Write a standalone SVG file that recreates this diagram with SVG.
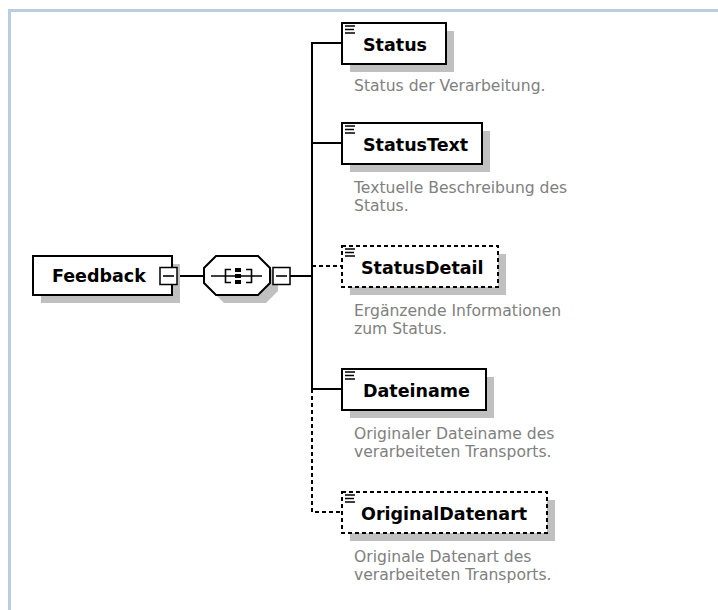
<svg xmlns="http://www.w3.org/2000/svg" width="718" height="610" viewBox="0 0 718 610">
<style>
.frame{fill:none;stroke:#B8CCE4;stroke-width:3}
.box{fill:#fff;stroke:#000;stroke-width:2}
.opt{fill:#fff;stroke:#000;stroke-width:2;stroke-dasharray:4 3}
.shadow{fill:#C0C0C0}
.name{font-family:"DejaVu Sans",sans-serif;font-weight:bold;font-size:17.5px;fill:#000}
.desc{font-family:"DejaVu Sans",sans-serif;font-size:15.6px;fill:#808080}
.icon{stroke:#000;stroke-width:1.6}
.con{fill:none;stroke:#000;stroke-width:2}
.dash{fill:none;stroke:#000;stroke-width:2;stroke-dasharray:4 3}
.mbox{fill:#fff;stroke:#000;stroke-width:1.5}
</style>
<rect x="0" y="0" width="718" height="610" fill="#fff"/>
<path class="frame" d="M9.5,612 V10.5 H720"/>

<g id="connectors">
  <line class="con" x1="177" y1="276" x2="204" y2="276"/>
  <line class="con" x1="290" y1="276" x2="312" y2="276"/>
  <polyline class="con" points="342,43 312,43 312,389 342,389"/>
  <line class="con" x1="312" y1="143" x2="342" y2="143"/>
  <line class="dash" x1="312" y1="266" x2="342" y2="266"/>
  <polyline class="dash" points="312,389 312,512 342,512"/>
</g>

<g id="Feedback">
  <rect class="shadow" x="41" y="264" width="139" height="39"/>
  <rect class="box" x="33" y="256" width="139" height="39"/>
  <text class="name" x="52" y="282">Feedback</text>
  <rect class="mbox" x="160" y="267.5" width="17" height="17"/>
  <line class="icon" x1="163" y1="276" x2="174" y2="276"/>
</g>

<g id="sequence">
  <polygon class="shadow" points="224,264 266,264 278,276 278,291 266,303 224,303 212,291 212,276"/>
  <polygon class="box" points="216,256 258,256 270,268 270,283 258,295 216,295 204,283 204,268"/>
  <line class="icon" x1="211" y1="276" x2="262" y2="276"/>
  <polyline fill="none" stroke="#000" stroke-width="1.6" points="231,269.5 225.5,269.5 225.5,282.5 231,282.5"/>
  <polyline fill="none" stroke="#000" stroke-width="1.6" points="246,269.5 251.5,269.5 251.5,282.5 246,282.5"/>
  <rect x="235" y="268" width="6" height="4" fill="#000"/>
  <rect x="235" y="274" width="6" height="4" fill="#000"/>
  <rect x="235" y="280" width="6" height="4" fill="#000"/>
  <rect class="mbox" x="273" y="267.5" width="17" height="17"/>
  <line class="icon" x1="276" y1="276" x2="287" y2="276"/>
</g>

<g id="Status">
  <rect class="shadow" x="350" y="31" width="104" height="41"/>
  <rect class="box" x="342" y="23" width="104" height="41"/>
  <path class="icon" d="M345,26H355M345,29.5H354M345,33H355"/>
  <text class="name" x="363" y="51">Status</text>
  <text class="desc" x="354" y="91">Status der Verarbeitung.</text>
</g>

<g id="StatusText">
  <rect class="shadow" x="350" y="131" width="140" height="41"/>
  <rect class="box" x="342" y="123" width="140" height="41"/>
  <path class="icon" d="M345,126H355M345,129.5H354M345,133H355"/>
  <text class="name" x="363" y="151">StatusText</text>
  <text class="desc" x="354" y="193">Textuelle Beschreibung des</text>
  <text class="desc" x="354" y="211">Status.</text>
</g>

<g id="StatusDetail">
  <rect class="shadow" x="350" y="254" width="156" height="41"/>
  <rect class="opt" x="342" y="246" width="156" height="41"/>
  <path class="icon" d="M345,249H355M345,252.5H354M345,256H355"/>
  <text class="name" x="361" y="274">StatusDetail</text>
  <text class="desc" x="354" y="316">Ergänzende Informationen</text>
  <text class="desc" x="354" y="334">zum Status.</text>
</g>

<g id="Dateiname">
  <rect class="shadow" x="350" y="377" width="144" height="41"/>
  <rect class="box" x="342" y="369" width="144" height="41"/>
  <path class="icon" d="M345,372H355M345,375.5H354M345,379H355"/>
  <text class="name" x="363" y="397">Dateiname</text>
  <text class="desc" x="354" y="439">Originaler Dateiname des</text>
  <text class="desc" x="354" y="457">verarbeiteten Transports.</text>
</g>

<g id="OriginalDatenart">
  <rect class="shadow" x="350" y="500" width="205" height="41"/>
  <rect class="opt" x="342" y="492" width="205" height="41"/>
  <path class="icon" d="M345,495H355M345,498.5H354M345,502H355"/>
  <text class="name" x="361" y="520">OriginalDatenart</text>
  <text class="desc" x="354" y="562">Originale Datenart des</text>
  <text class="desc" x="354" y="580">verarbeiteten Transports.</text>
</g>
</svg>
